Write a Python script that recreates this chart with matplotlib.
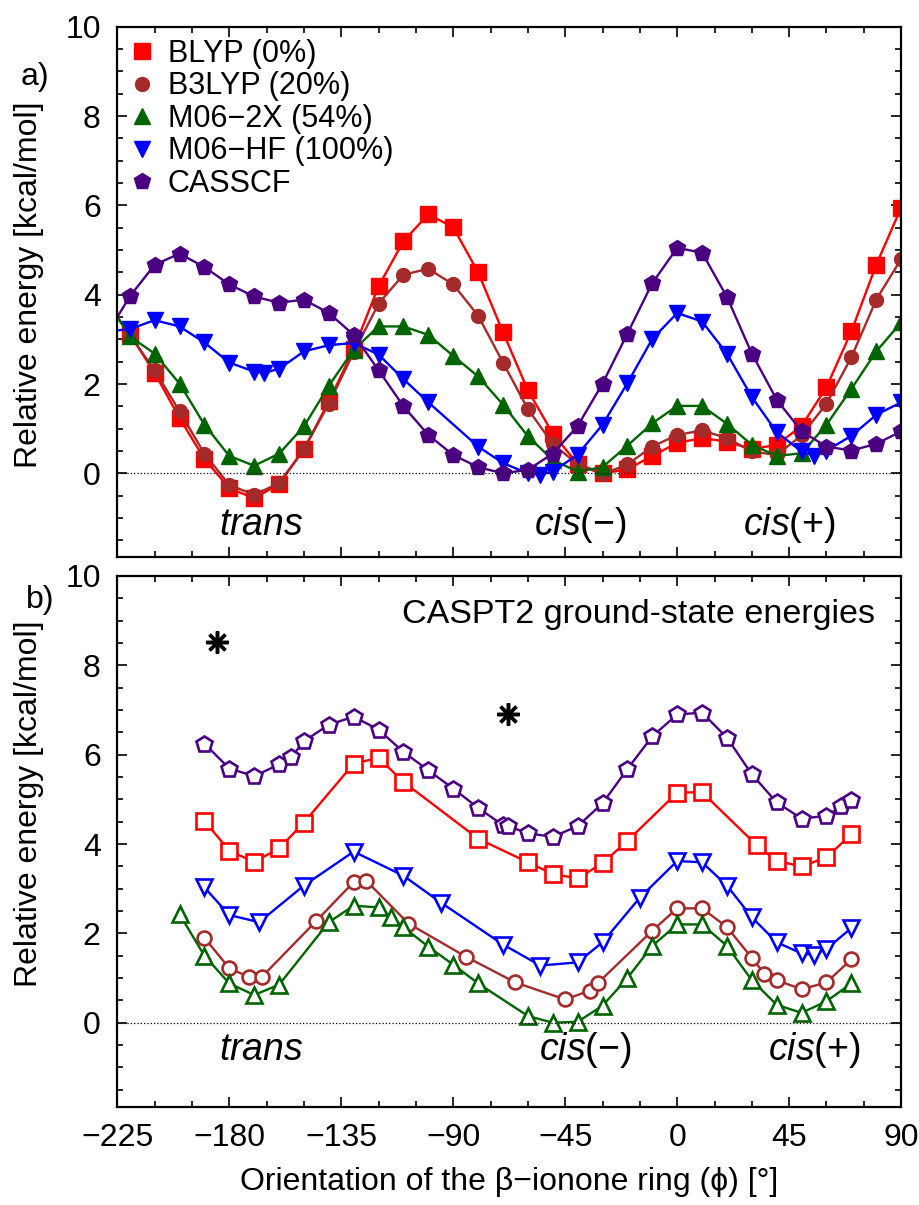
import numpy as np
import matplotlib.pyplot as plt
from matplotlib.lines import Line2D
from matplotlib.ticker import MultipleLocator

plt.rcParams['font.family'] = ['Liberation Sans', 'DejaVu Sans']
plt.rcParams['mathtext.fontset'] = 'custom'
plt.rcParams['mathtext.rm'] = 'Liberation Sans'
plt.rcParams['mathtext.it'] = 'Liberation Sans:italic'

# ---- panel a) : DFT / CASSCF scans ----
phi_a = np.arange(-230, 91, 10)
blyp_a = [3.88, 3.12, 2.25, 1.24, 0.32, -0.33, -0.56, -0.24, 0.54, 1.61, 2.78, 4.19, 5.2,
          5.8, 5.51, 4.5, 3.16, 1.86, 0.89, 0.21, 0.0, 0.09, 0.39, 0.68, 0.79, 0.71, 0.54,
          0.64, 1.06, 1.93, 3.18, 4.67, 5.95]
b3lyp_a = [3.9, 3.1, 2.31, 1.39, 0.44, -0.26, -0.48, -0.22, 0.54, 1.56, 2.71, 3.8, 4.45,
           4.58, 4.23, 3.53, 2.48, 1.44, 0.66, 0.2, -0.02, 0.2, 0.6, 0.86, 0.96, 0.79, 0.49,
           0.41, 0.85, 1.56, 2.6, 3.89, 4.8]
m062x_a = [3.93, 3.07, 2.68, 2.01, 1.09, 0.39, 0.17, 0.44, 1.05, 1.96, 2.77, 3.29, 3.29,
           3.1, 2.63, 2.17, 1.54, 0.83, 0.3, 0.04, 0.14, 0.62, 1.12, 1.51, 1.51, 1.11, 0.64,
           0.39, 0.45, 1.09, 1.89, 2.73, 3.38]
phi_hf_a = [-230, -220, -210, -200, -190, -180, -170, -166, -160, -150, -140, -130, -120,
            -110, -100, -80, -70, -60, -55, -50, -40, -30, -20, -10, 0, 10, 20, 30, 40, 50,
            55, 60, 70, 80, 90]
m06hf_a = [3.17, 3.23, 3.43, 3.29, 2.93, 2.48, 2.28, 2.25, 2.34, 2.73, 2.87, 2.92, 2.66,
           2.11, 1.59, 0.6, 0.23, 0.0, -0.03, 0.04, 0.42, 1.09, 2.02, 3.01, 3.59, 3.4, 2.68,
           1.71, 0.92, 0.49, 0.39, 0.51, 0.84, 1.31, 1.59]
casscf_a = [3.04, 3.96, 4.67, 4.92, 4.62, 4.23, 3.96, 3.82, 3.89, 3.59, 3.1, 2.31, 1.5,
            0.86, 0.41, 0.14, 0.0, 0.08, 0.44, 1.06, 2.01, 3.13, 4.26, 5.05, 4.94, 3.95, 2.68,
            1.65, 0.94, 0.6, 0.51, 0.66, 0.94]

# ---- panel b) : CASPT2 ground-state energies ----
phi_blyp_b = [-190, -180, -170, -160, -150, -130, -120, -110, -80, -60, -50, -40, -30, -20,
              0, 10, 32, 40, 50, 60, 70]
blyp_b = [4.52, 3.85, 3.6, 3.9, 4.48, 5.8, 5.93, 5.39, 4.12, 3.59, 3.33, 3.23, 3.57, 4.07,
          5.15, 5.16, 3.97, 3.62, 3.5, 3.7, 4.22]
phi_b3lyp_b = [-190, -180, -172, -167, -145, -130, -125, -108, -85, -65, -45, -35, -32,
               -10, 0, 10, 20, 30, 35, 40, 50, 60, 70]
b3lyp_b = [1.9, 1.22, 1.02, 1.02, 2.28, 3.15, 3.18, 2.22, 1.48, 0.9, 0.52, 0.72, 0.88,
           2.06, 2.56, 2.56, 2.14, 1.45, 1.1, 0.95, 0.75, 0.9, 1.42]
phi_m062x_b = [-200, -190, -180, -170, -160, -140, -130, -120, -115, -110, -100, -90, -80,
               -60, -50, -40, -30, -20, -10, 0, 10, 20, 30, 40, 50, 60, 70]
m062x_b = [2.43, 1.5, 0.88, 0.62, 0.85, 2.25, 2.62, 2.58, 2.36, 2.14, 1.7, 1.3, 0.88,
           0.15, 0.0, 0.02, 0.38, 1.0, 1.72, 2.2, 2.2, 1.72, 0.95, 0.4, 0.22, 0.48, 0.88]
phi_m06hf_b = [-190, -180, -168, -150, -130, -110, -95, -70, -55, -40, -30, -15, 0, 10, 20,
               30, 40, 50, 55, 60, 70]
m06hf_b = [3.03, 2.41, 2.25, 3.07, 3.83, 3.29, 2.69, 1.75, 1.28, 1.35, 1.8, 2.8, 3.62, 3.59,
           3.07, 2.36, 1.8, 1.55, 1.52, 1.65, 2.12]
phi_casscf_b = [-190, -180, -170, -160, -155, -150, -140, -130, -120, -110, -100, -90, -80,
                -70, -68, -60, -50, -40, -30, -20, -10, 0, 10, 20, 30, 40, 50, 60, 66, 70]
casscf_b = [6.25, 5.69, 5.52, 5.78, 5.95, 6.3, 6.67, 6.85, 6.56, 6.06, 5.65, 5.24, 4.81, 4.42,
            4.4, 4.24, 4.16, 4.4, 4.91, 5.68, 6.41, 6.9, 6.94, 6.38, 5.56, 4.93, 4.57, 4.63,
            4.84, 4.98]
phi_star = [-185, -68]
e_star = [8.53, 6.92]

labels = ['BLYP (0%)', 'B3LYP (20%)', 'M06\u22122X (54%)', 'M06\u2212HF (100%)', 'CASSCF']
colors = ['#ff0000', '#a52a2a', '#006400', '#0000ff', '#4b0082']
markers = ['s', 'o', '^', 'v', 'p']
msizes = [11, 10, 11.5, 11.5, 12]

fig = plt.figure(figsize=(9.2, 12.05), dpi=100)
ax1 = fig.add_axes([0.1275, 0.5375, 0.852, 0.4403])
ax2 = fig.add_axes([0.1275, 0.0816, 0.852, 0.4404])

series_a = [(phi_a, blyp_a), (phi_a, b3lyp_a), (phi_a, m062x_a), (phi_hf_a, m06hf_a), (phi_a, casscf_a)]
for (x, y), c, m, ms in zip(series_a, colors, markers, msizes):
    ax1.plot(x, y, color=c, marker=m, ms=ms, lw=1.7, mec=c, mfc=c)

series_b = [(phi_blyp_b, blyp_b), (phi_b3lyp_b, b3lyp_b), (phi_m062x_b, m062x_b),
            (phi_m06hf_b, m06hf_b), (phi_casscf_b, casscf_b)]
for (x, y), c, m, ms in zip(series_b, colors, markers, msizes):
    ax2.plot(x, y, color=c, marker=m, ms=ms, lw=1.7, mec=c, mfc='white', mew=1.9)
ax2.plot(phi_star, e_star, ls='none', marker=(8, 2, 0), ms=16, mew=2.5, color='black')

for ax in (ax1, ax2):
    ax.set_xlim(-225, 90)
    ax.set_ylim(-1.88, 10)
    ax.axhline(0, color='black', ls=':', lw=0.9)
    ax.xaxis.set_major_locator(MultipleLocator(45))
    ax.xaxis.set_minor_locator(MultipleLocator(15))
    ax.yaxis.set_major_locator(MultipleLocator(2))
    ax.yaxis.set_minor_locator(MultipleLocator(0.5))
    ax.tick_params(which='both', direction='in', top=True, right=True, width=1.2,
                   labelsize=23, pad=12)
    ax.tick_params(which='major', length=7)
    ax.tick_params(which='minor', length=4)
    for s in ax.spines.values():
        s.set_linewidth(1.6)
    ax.set_ylabel('Relative energy [kcal/mol]', fontsize=23)

ax1.set_xticklabels([])
ax2.set_xticks(np.arange(-225, 91, 45))
ax2.set_xticklabels([('\u2212%d' % -v) if v < 0 else str(v) for v in range(-225, 91, 45)])
ax1.set_yticks(range(0, 11, 2))
ax2.set_yticks(range(0, 11, 2))
ax1.yaxis.set_label_coords(-0.094, 0.513)
ax2.yaxis.set_label_coords(-0.094, 0.57)
ax2.set_xlabel('Orientation of the \u03b2\u2212ionone ring (\u03d5) [\u00b0]', fontsize=23, labelpad=10)

tkw = dict(fontsize=27, ha='center', va='center')
ax1.text(-167, -1.15, '$\\mathit{trans}$', **tkw)
ax1.text(-39, -1.15, '$\\mathit{cis}$(\u2212)', **tkw)
ax1.text(45, -1.15, '$\\mathit{cis}$(+)', **tkw)
ax2.text(-167, -0.62, '$\\mathit{trans}$', **tkw)
ax2.text(-37, -0.62, '$\\mathit{cis}$(\u2212)', **tkw)
ax2.text(55, -0.62, '$\\mathit{cis}$(+)', **tkw)
ax2.text(0.9665, 0.927, 'CASPT2 ground-state energies', transform=ax2.transAxes,
         fontsize=24.5, ha='right', va='center')

fig.text(35 / 920, 1 - 77 / 1205, 'a)', fontsize=23, ha='center', va='center')
fig.text(40 / 920, 1 - 600 / 1205, 'b)', fontsize=23, ha='center', va='center')

handles = [Line2D([], [], ls='none', marker=m, color=c, ms=ms)
           for c, m, ms in zip(colors, markers, msizes)]
ax1.legend(handles, labels, loc='upper left', frameon=False, fontsize=22,
           handletextpad=0.45, labelspacing=0.08, borderaxespad=0.1, borderpad=0.3,
           handlelength=0.8)

fig.savefig('out.png', dpi=100)
